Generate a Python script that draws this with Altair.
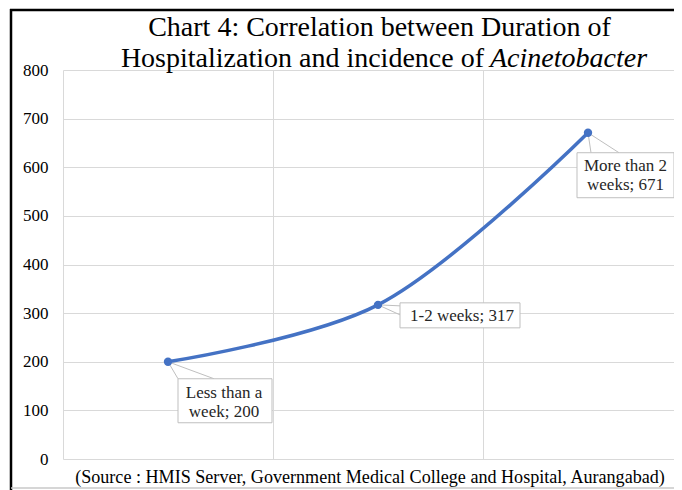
import altair as alt
import pandas as pd

# ---- data ----
categories = ["Less than a week", "1-2 weeks", "More than 2 weeks"]
x_positions = [0.5, 1.5, 2.5]
values = [200, 317, 671]
label_lines = [["Less than a", "week; 200"], ["1-2 weeks; 317"], ["More than 2", "weeks; 671"]]
y_ticks = [0, 100, 200, 300, 400, 500, 600, 700, 800]
x_grid = [0, 1, 2, 3]

title_line1 = "Chart 4: Correlation between Duration of"
title_line2a = "Hospitalization and incidence of"
title_line2b = "Acinetobacter"
source_text = "(Source : HMIS Server, Government Medical College and Hospital, Aurangabad)"

# ---- styling (pixel offsets of callouts relative to their point) ----
box_off = [(10, 104, 17, 61), (22, 142, -2, 23), (-11, 86, 20, 65)]
pointer_off = [((10, 17), (46, 17)), ((22, 1), (22, 10)), ((3, 20), (31, 20))]
text_off = [(56, 31), (84, 11), (37.5, 33)]

FONT = "Liberation Serif"
BLUE = "#4472C4"
GRID = "#d9d9d9"
W, H = 611, 389

df = pd.DataFrame({"category": categories, "x": x_positions, "value": values})

xs = alt.Scale(domain=[0, W / 210.0], nice=False, zero=False)
ys = alt.Scale(domain=[0, 800], nice=False, zero=True)

base = alt.Chart(df)

xenc = alt.X("x:Q", scale=xs, axis=alt.Axis(values=x_grid, labels=False, ticks=False, domain=False,
                                            grid=True, gridColor=GRID, gridWidth=1, title=None))
yenc = alt.Y("value:Q", scale=ys, axis=alt.Axis(values=y_ticks, ticks=False, domain=False, grid=True,
                                                gridColor=GRID, gridWidth=1, title=None,
                                                labelFont=FONT, labelFontSize=17, labelColor="#000000",
                                                labelPadding=15))

line = base.mark_line(color=BLUE, strokeWidth=3.5, interpolate="catmull-rom").encode(x=xenc, y=yenc)

pointers = []
boxes = []
texts = []
for i in range(len(categories)):
    sub = alt.Chart(df.iloc[[i]])
    (p1, p2) = pointer_off[i]
    for (ox, oy) in (p1, p2):
        pointers.append(sub.mark_rule(color="#bfbfbf", strokeWidth=1, x2Offset=ox, y2Offset=oy).encode(
            x=alt.X("x:Q", scale=xs), x2=alt.X2("x"), y=alt.Y("value:Q", scale=ys), y2=alt.Y2("value")))
    x0, x1, y0, y1 = box_off[i]
    boxes.append(sub.mark_rect(fill="white", stroke="#bfbfbf", strokeWidth=1,
                               xOffset=x0, x2Offset=x1, yOffset=y0, y2Offset=y1).encode(
        x=alt.X("x:Q", scale=xs), x2=alt.X2("x"), y=alt.Y("value:Q", scale=ys), y2=alt.Y2("value")))
    tx, ty = text_off[i]
    texts.append(sub.mark_text(text=label_lines[i], font=FONT, fontSize=17, color="#262626",
                               align="center", baseline="middle", lineHeight=19.5, dx=tx, dy=ty).encode(
        x=alt.X("x:Q", scale=xs), y=alt.Y("value:Q", scale=ys)))

points = base.mark_circle(color=BLUE, size=70, opacity=1).encode(x=alt.X("x:Q", scale=xs), y=alt.Y("value:Q", scale=ys))

one = alt.Chart(pd.DataFrame({"k": [0]}))
t1 = one.mark_text(text=title_line1, font=FONT, fontSize=28, color="#000000", align="center",
                   baseline="alphabetic").encode(x=alt.value(316.5), y=alt.value(-34.5))
t2a = one.mark_text(text=title_line2a, font=FONT, fontSize=28, color="#000000", align="right",
                    baseline="alphabetic").encode(x=alt.value(421), y=alt.value(-3.5))
t2b = one.mark_text(text=title_line2b, font=FONT, fontSize=28, fontStyle="italic", color="#000000",
                    align="left", baseline="alphabetic").encode(x=alt.value(427), y=alt.value(-3.5))
src = one.mark_text(text=source_text, font=FONT, fontSize=18.1, color="#000000", align="center",
                    baseline="alphabetic").encode(x=alt.value(307), y=alt.value(413))

frame_left = one.mark_rule(color="#000000", strokeWidth=2.5).encode(
    x=alt.value(-52), y=alt.value(-61), y2=alt.value(430))
frame_top = one.mark_rule(color="#000000", strokeWidth=2.5).encode(
    x=alt.value(-53), x2=alt.value(W + 5), y=alt.value(-60))
frame_bottom = one.mark_rule(color="#c8c8c8", strokeWidth=1.5).encode(
    x=alt.value(-52), x2=alt.value(W + 5), y=alt.value(418))

chart = alt.layer(*([line] + pointers + [points] + boxes + texts +
                    [t1, t2a, t2b, src, frame_left, frame_top, frame_bottom])).properties(
    width=W, height=H,
    autosize=alt.AutoSizeParams(type="none"),
    padding={"left": 55, "top": 62, "right": 0, "bottom": 31},
    background="white",
).configure(font=FONT).configure_axis(labelFont=FONT).configure_text(font=FONT).configure_view(stroke=None)

chart.save("out.html", embed_options={"renderer": "svg", "actions": False})
